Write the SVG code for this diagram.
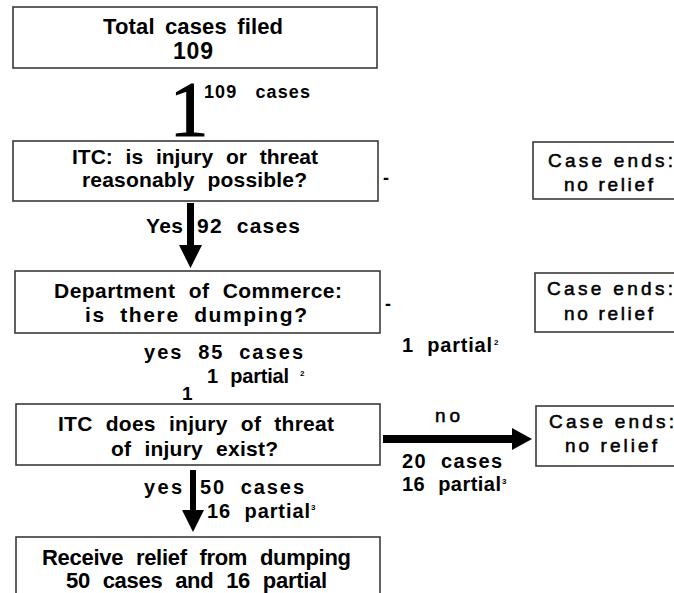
<svg xmlns="http://www.w3.org/2000/svg" width="674" height="593" viewBox="0 0 674 593">
<style>
.box{fill:#fff;stroke:#3a3a3a;stroke-width:1.6}
.t{font-family:"Liberation Sans",Arial,sans-serif;font-weight:bold;fill:#000;word-spacing:7px}
.c{font-family:"Liberation Sans",Arial,sans-serif;font-weight:normal;fill:#000;stroke:#000;stroke-width:0.55;font-size:19px}
.sup{font-family:"Liberation Sans",Arial,sans-serif;font-weight:bold;font-size:8px}
.arr{fill:#000}
</style>
<rect width="674" height="593" fill="#fff"/>
<g id="n-total">
<rect class="box" x="13" y="7" width="364" height="61"/>
<text class="t" font-size="22" x="103" y="34" textLength="180" lengthAdjust="spacing" style="word-spacing:4px">Total cases filed</text>
<text class="t" font-size="23" x="173" y="59" textLength="40" lengthAdjust="spacing">109</text>
</g>
<g id="n-itc1">
<rect class="box" x="13" y="141" width="365" height="60"/>
<text class="t" font-size="21" x="72" y="164" textLength="246" lengthAdjust="spacing">ITC: is injury or threat</text>
<text class="t" font-size="21" x="82" y="187" textLength="225" lengthAdjust="spacing">reasonably possible?</text>
</g>
<g id="n-end1">
<rect class="box" x="533" y="142" width="150" height="57"/>
<text class="c" x="548" y="167" textLength="125" lengthAdjust="spacing">Case ends:</text>
<text class="c" x="564" y="191" textLength="89" lengthAdjust="spacing">no relief</text>
</g>
<g id="n-doc">
<rect class="box" x="15" y="271" width="365" height="62"/>
<text class="t" font-size="21" x="54" y="298" textLength="288" lengthAdjust="spacing">Department of Commerce:</text>
<text class="t" font-size="21" x="85" y="322" textLength="222" lengthAdjust="spacing">is there dumping?</text>
</g>
<g id="n-end2">
<rect class="box" x="535" y="273" width="150" height="59"/>
<text class="c" x="547" y="295" textLength="126" lengthAdjust="spacing">Case ends:</text>
<text class="c" x="564" y="320" textLength="89" lengthAdjust="spacing">no relief</text>
</g>
<g id="n-itc2">
<rect class="box" x="16" y="404" width="364" height="61"/>
<text class="t" font-size="21" x="58" y="431" textLength="276" lengthAdjust="spacing">ITC does injury of threat</text>
<text class="t" font-size="21" x="111" y="456" textLength="167" lengthAdjust="spacing">of injury exist?</text>
</g>
<g id="n-end3">
<rect class="box" x="536" y="406" width="150" height="60"/>
<text class="c" x="549" y="428" textLength="125" lengthAdjust="spacing">Case ends:</text>
<text class="c" x="565" y="452" textLength="92" lengthAdjust="spacing">no relief</text>
</g>
<g id="n-relief">
<rect class="box" x="16" y="537" width="364" height="70"/>
<text class="t" font-size="22" x="42" y="565" textLength="309" lengthAdjust="spacing">Receive relief from dumping</text>
<text class="t" font-size="22" x="66" y="588" textLength="261" lengthAdjust="spacing">50 cases and 16 partial</text>
</g>
<g id="connectors">
<text x="189" y="135" text-anchor="middle" font-family="'Liberation Serif','Times New Roman',serif" font-size="78" fill="#000" stroke="#000" stroke-width="1.2">1</text>
<text class="t" font-size="18" x="204" y="98" textLength="106" lengthAdjust="spacing" style="word-spacing:12px">109 cases</text>
<text class="t" font-size="18" x="383" y="184">-</text>
<polygon class="arr" points="187,203 194,203 194,245 202,245 190.5,268 179,245 187,245"/>
<text class="t" font-size="21" x="146" y="233" textLength="37" lengthAdjust="spacing">Yes</text>
<text class="t" font-size="21" x="197" y="233" textLength="103" lengthAdjust="spacing">92 cases</text>
<text class="t" font-size="18" x="385" y="310">-</text>
<text class="t" font-size="20" x="144" y="359" textLength="159" lengthAdjust="spacing">yes 85 cases</text>
<text class="t" font-size="20" x="207" y="383" textLength="82" lengthAdjust="spacing">1 partial</text>
<text class="sup" x="300" y="376">2</text>
<text class="t" font-size="19" x="182" y="400">1</text>
<text class="t" font-size="20" x="402" y="352" textLength="90" lengthAdjust="spacing">1 partial</text>
<text class="sup" x="494" y="345">2</text>
<polygon class="arr" points="383,435 512,435 512,428 532,439 512,450 512,443 383,443"/>
<text class="c" x="435" y="422" textLength="25" lengthAdjust="spacing">no</text>
<text class="t" font-size="20" x="402" y="468" textLength="100" lengthAdjust="spacing">20 cases</text>
<text class="t" font-size="20" x="402" y="491" textLength="99" lengthAdjust="spacing">16 partial</text>
<text class="sup" x="502" y="484">3</text>
<polygon class="arr" points="190,470 196,470 196,510 204,510 193,532 182,510 190,510"/>
<text class="t" font-size="20" x="144" y="494" textLength="38" lengthAdjust="spacing">yes</text>
<text class="t" font-size="20" x="200" y="494" textLength="104" lengthAdjust="spacing">50 cases</text>
<text class="t" font-size="20" x="207" y="518" textLength="103" lengthAdjust="spacing">16 partial</text>
<text class="sup" x="311" y="510">3</text>
</g>
</svg>
